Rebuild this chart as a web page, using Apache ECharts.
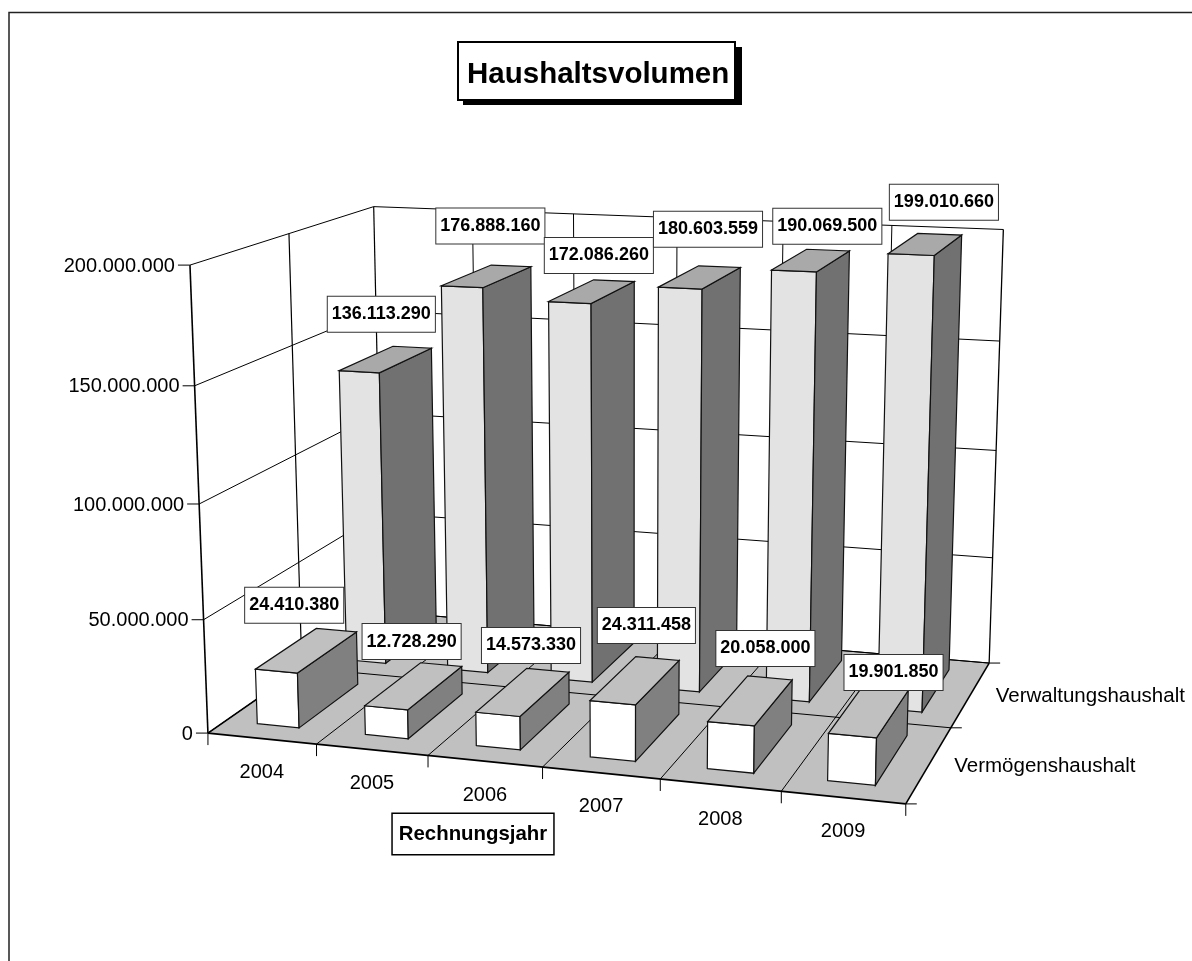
<!DOCTYPE html>
<html><head><meta charset="utf-8">
<style>html,body{margin:0;padding:0;background:#fff}#c{width:1192px;height:961px}</style>
<script src="https://cdn.jsdelivr.net/npm/echarts@6/dist/echarts.min.js"></script>
</head><body><div id="c"></div>
<script>
const years = ['2004','2005','2006','2007','2008','2009'];
const verwaltung = [136113290,176888160,172086260,180603559,190069500,199010660];
const vermoegen = [24410380,12728290,14573330,24311458,20058000,19901850];
const seriesNames = ['Vermögenshaushalt','Verwaltungshaushalt'];
const yTicks = [0,50000000,100000000,150000000,200000000];

const FONT='"Liberation Sans",Arial,sans-serif';
const fmt=v=>String(v).replace(/\B(?=(\d{3})+$)/g,'.');

// camera: fits a 3D->2D projection to the box corners of the picture
const anchors=[
 [0,0,0,207.7,733.3],[6,0,0,905.7,803.7],[0,2,0,381,613],[6,2,0,989,662.7],
 [0,0,4,190,265.3],[0,2,4,373.7,206],[6,2,4,1003.3,230],[0,0,1,203.3,620],
 [0,1,0,305,666],[6,1,0,951.7,727.7],[1,0,0,315.7,744.3],[3,0,0,541.7,767.7],
 [0,0,3,194.7,385.7],[6,0,0,905.7,803.7]];
function solveCamera(){
 const A=[],b=[];
 anchors.forEach(([X,Z,Y,u,v])=>{
  A.push([X,Y,Z,1,0,0,0,0,-u*X,-u*Y,-u*Z]);b.push(u);
  A.push([0,0,0,0,X,Y,Z,1,-v*X,-v*Y,-v*Z]);b.push(v);
 });
 const n=11,M=[];
 for(let i=0;i<n;i++){M.push([]);for(let j=0;j<=n;j++){let s=0;
  for(let r=0;r<A.length;r++)s+=A[r][i]*(j<n?A[r][j]:b[r]);M[i].push(s);}}
 for(let i=0;i<n;i++){let p=i;for(let r=i+1;r<n;r++)if(Math.abs(M[r][i])>Math.abs(M[p][i]))p=r;
  [M[i],M[p]]=[M[p],M[i]];
  for(let r=0;r<n;r++)if(r!==i){const f=M[r][i]/M[i][i];for(let j=i;j<=n;j++)M[r][j]-=f*M[i][j];}}
 return M.map((row,i)=>row[n]/row[i]);
}
const P=solveCamera();
function proj(X,Z,Y){const w=P[8]*X+P[9]*Y+P[10]*Z+1;
 return [(P[0]*X+P[1]*Y+P[2]*Z+P[3])/w,(P[4]*X+P[5]*Y+P[6]*Z+P[7])/w];}

// axis scales -> scene units (X: 0..6 categories, Y: 0..4 value steps)
function scene(api,params,i,v){const c=api.coord([i,v]),s=params.coordSys;
 return {X:(c[0]-s.x)/s.width*years.length,Y:(s.y+s.height-c[1])/s.height*(yTicks.length-1)};}

const line=(a,b,w,col)=>({type:'line',shape:{x1:a[0],y1:a[1],x2:b[0],y2:b[1]},style:{stroke:col||'#000',lineWidth:w||1},silent:true});
const poly=(pts,fill)=>({type:'polygon',shape:{points:pts},style:{fill,stroke:'#111',lineWidth:1.2},silent:true});
const txt=(x,y,t,align,font)=>({type:'text',z2:5,style:{x,y,text:t,fill:'#000',font:font||('20px '+FONT),align:align||'center',verticalAlign:'middle'},silent:true});

function renderFrame(params,api){
 const ch=[],nx=years.length,yTop=yTicks.length-1;
 ch.push({type:'polygon',shape:{points:[proj(0,0,0),proj(nx,0,0),proj(nx,2,0),proj(0,2,0)]},style:{fill:'#C0C0C0'},silent:true});
 // value grid
 yTicks.forEach(t=>{const Y=scene(api,params,0,t).Y;
  const a=proj(0,0,Y),b=proj(0,2,Y),c=proj(nx,2,Y);
  ch.push(line(a,b),line(b,c),line([a[0]-12,a[1]],a));
  ch.push(txt(a[0]-15,a[1]+1,fmt(t),'right'));
 });
 // verticals on the walls
 ch.push(line(proj(0,0,0),proj(0,0,yTop),1.6));
 for(let z=1;z<=2;z++)ch.push(line(proj(0,z,0),proj(0,z,yTop),1.2));
 for(let i=1;i<=nx;i++)ch.push(line(proj(i,2,0),proj(i,2,yTop),i===nx?1.3:1));
 // floor
 for(let i=0;i<=nx;i++){const a=proj(i,0,0);
  ch.push(line(a,proj(i,2,0),(i===0||i===nx)?1.6:1),line(a,[a[0],a[1]+12]));}
 for(let z=0;z<=2;z++){const e=proj(nx,z,0);
  ch.push(line(proj(0,z,0),e,z===0?1.6:1),line(e,[e[0]+11,e[1]]));}
 // category labels
 years.forEach((y,i)=>{const X=scene(api,params,i,0).X,a=proj(X,0,0);ch.push(txt(a[0],a[1]+34,y));});
 // depth labels
 seriesNames.forEach((n,k)=>{const a=proj(nx,k+0.5,0);ch.push(txt(a[0]+25,a[1]+2,n,'left','20.5px '+FONT));});
 // axis name
 ch.push({type:'text',z2:5,style:{x:473,y:834,text:'Rechnungsjahr',fill:'#000',font:'bold 20.4px '+FONT,align:'center',verticalAlign:'middle',backgroundColor:'#fff',borderColor:'#000',borderWidth:1.5,padding:[10,6,10,6]},silent:true});
 return {type:'group',children:ch};
}

const HALF=0.195,SHIFT=-0.01;
// label placement relative to the bar top
const backNudge=[[0,0],[4,-5],[3,9],[0,-3],[4,11],[2,3]];
const frontNudge=[[0,0],[3,0],[6,-3],[2,-12],[-1.5,-10],[1,2]];
function barRenderer(zFront,zBack,colors,lab,nudge){
 return function(params,api){
  const i=api.value(0),v=api.value(1),s=scene(api,params,i,v);
  const x0=s.X-HALF+SHIFT,x1=s.X+HALF+SHIFT,Y=s.Y;
  const f0=proj(x0,zFront,0),f1=proj(x1,zFront,0),f2=proj(x1,zFront,Y),f3=proj(x0,zFront,Y);
  const b1=proj(x1,zBack,0),b2=proj(x1,zBack,Y),b3=proj(x0,zBack,Y);
  const c0=proj(s.X,(zFront+zBack)/2,Y);
  const t=(s.X-0.5)/5;
  return {type:'group',children:[
   poly([f0,f1,f2,f3],colors[0]),
   poly([f1,b1,b2,f2],colors[1]),
   poly([f3,f2,b2,b3],colors[2]),
   {type:'text',z2:10,style:{x:c0[0]+lab[0]+lab[1]*t+nudge[i][0],y:c0[1]+lab[2]+lab[3]*t+nudge[i][1],text:fmt(v),fill:'#000',font:'bold 18px '+FONT,align:'center',verticalAlign:'middle',backgroundColor:'#fff',borderColor:'#333',borderWidth:1,padding:[9,4,8,4]},silent:true}
  ]};
 };
}
const toData=arr=>arr.map((v,i)=>[i,v]);

const chart=echarts.init(document.getElementById('c'),null,{renderer:'canvas'});
chart.setOption({
 animation:false,backgroundColor:'#fff',
 title:{text:'Haushaltsvolumen',left:458,top:42,padding:[18,6,10,9],backgroundColor:'#fff',borderColor:'#000',borderWidth:2,z:6,
  textStyle:{fontFamily:FONT,fontWeight:'bold',fontSize:29.5,color:'#000'}},
 graphic:[
  {type:'rect',z:0,shape:{x:463,y:47,width:279,height:58},style:{fill:'#000'},silent:true},
  {type:'polyline',shape:{points:[[9,961],[9,12.5],[1192,12.5]]},style:{stroke:'#222',lineWidth:1.5,fill:null},silent:true}],
 grid:{left:0,right:0,top:0,bottom:0,containLabel:false},
 xAxis:{type:'category',data:years,show:false},
 yAxis:{type:'value',min:0,max:200000000,interval:50000000,show:false},
 series:[
  {type:'custom',name:'frame',z:1,clip:false,data:[[0,0]],renderItem:renderFrame,silent:true},
  {type:'custom',name:seriesNames[1],z:2,clip:false,data:toData(verwaltung),encode:{x:0,y:1},
   renderItem:barRenderer(1.18,1.84,['#E3E3E3','#717171','#A9A9A9'],[-6,21,-45,0],backNudge),silent:true},
  {type:'custom',name:seriesNames[0],z:3,clip:false,data:toData(vermoegen),encode:{x:0,y:1},
   renderItem:barRenderer(0.18,0.84,['#FFFFFF','#808080','#C0C0C0'],[-14,36,-45,4],frontNudge),silent:true}
 ]
});
</script></body></html>
